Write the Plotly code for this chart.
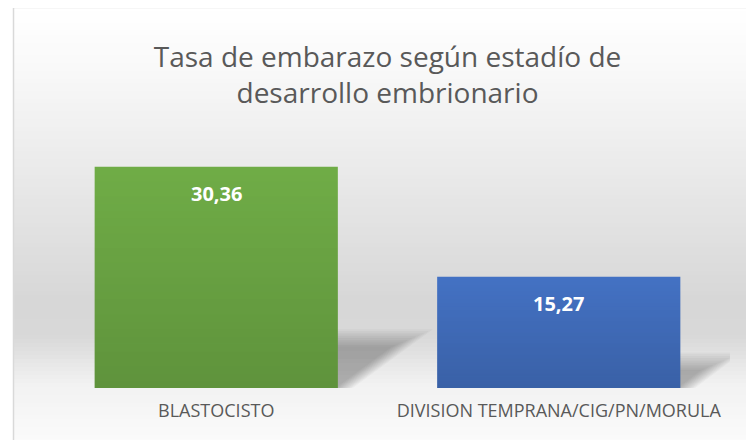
import plotly.graph_objects as go

categories = ["BLASTOCISTO", "DIVISION TEMPRANA/CIG/PN/MORULA"]
values = [30.36, 15.27]
value_labels = ["30,36", "15,27"]
bar_colors = ["#70AD47", "#4472C4"]
title_text = "Tasa de embarazo según estadío de<br>desarrollo embrionario"

W, H = 754, 440
OFF = 8  # page body margin offset
ML, MR, MT, MB = 45 - OFF, 24 + OFF, 133 - OFF, 52 + OFF
YMAX = 35
BAR_W = 0.71
plot_h = H - MT - MB
plot_w = W - ML - MR

shapes = []

# pixel helpers (reference page coordinates -> paper)
def px_to_paper_y(py):
    return (H - MB - (py - OFF)) / plot_h

def px_to_paper_x(px):
    return ((px - OFF) - ML) / plot_w

# background vertical gradient
stops = [(7, 255), (60, 250), (300, 215), (335, 216), (385, 242), (450, 252)]
def bg_at(py):
    for (y0, c0), (y1, c1) in zip(stops[:-1], stops[1:]):
        if y0 <= py <= y1:
            t = (py - y0) / (y1 - y0)
            return c0 + (c1 - c0) * t
    return stops[-1][1]

step = 4
py = 7
while py < H + OFF:
    c = int(round(bg_at(py + step / 2)))
    shapes.append(dict(type="rect", xref="paper", yref="paper", layer="below",
                       x0=px_to_paper_x(13), x1=px_to_paper_x(W + 20),
                       y0=px_to_paper_y(py + step), y1=px_to_paper_y(py),
                       fillcolor=f"rgb({c},{c},{c})", line=dict(width=0)))
    py += step

# perspective shadows (soft, layered)
px_per_unit = plot_h / YMAX
cat_px = plot_w / len(categories)
layers = [(-0.06 + 0.02 * k, 0.026) for k in range(11)]
for i, v in enumerate(values):
    hpx = v * px_per_unit
    shift = 0.30 * hpx / cat_px
    ytop = 0.21 * v
    x0, x1 = i - BAR_W / 2, i + BAR_W / 2
    for g, op in layers:
        path = (f"M {x0} 0 L {x1 + g * 0.25} {-0.3} "
                f"L {x1 + shift + g * 0.6} {ytop + g * 12} "
                f"L {x0 + shift} {ytop + g * 12} Z")
        shapes.append(dict(type="path", xref="x", yref="y", layer="below", path=path,
                           fillcolor=f"rgba(0,0,0,{op})", line=dict(width=0)))

# bar gradient overlay
N = 30
for i, v in enumerate(values):
    for k in range(N):
        y0 = v * k / N
        y1 = v * (k + 1) / N
        op = 0.15 * (1 - (k + 0.5) / N)
        shapes.append(dict(type="rect", xref="x", yref="y", layer="above",
                           x0=i - BAR_W / 2, x1=i + BAR_W / 2, y0=y0, y1=y1,
                           fillcolor=f"rgba(0,0,0,{op:.4f})", line=dict(width=0)))

# chart border
shapes.append(dict(type="rect", xref="paper", yref="paper", layer="above",
                   x0=px_to_paper_x(13.5), x1=px_to_paper_x(W + 20),
                   y0=px_to_paper_y(H + 20), y1=px_to_paper_y(7.5),
                   fillcolor="rgba(0,0,0,0)", line=dict(color="#d9d9d9", width=1.5)))

annotations = []
for i, (v, lab) in enumerate(zip(values, value_labels)):
    annotations.append(dict(x=i, y=v, xref="x", yref="y", text=f"<b>{lab}</b>",
                            showarrow=False, yanchor="top", yshift=-11,
                            font=dict(family="Open Sans", size=20, color="white")))

fig = go.Figure(go.Bar(
    x=list(range(len(categories))), y=values, width=BAR_W,
    marker=dict(color=bar_colors, line=dict(width=0)),
    hoverinfo="skip",
))

fig.update_layout(
    width=W, height=H,
    margin=dict(l=ML, r=MR, t=MT, b=MB),
    paper_bgcolor="white", plot_bgcolor="rgba(0,0,0,0)",
    title=dict(text=title_text, x=0.5, xref="paper", xanchor="center",
               y=1 - (66.5 - OFF) / H, yanchor="middle",
               font=dict(family="Open Sans", size=28, color="#595959")),
    xaxis=dict(tickmode="array", tickvals=list(range(len(categories))), ticktext=categories,
               range=[-0.5, len(categories) - 0.5], showgrid=False, zeroline=False,
               showline=False, ticks="", ticklabelstandoff=10,
               tickfont=dict(family="Open Sans", size=18, color="#595959")),
    yaxis=dict(range=[0, YMAX], visible=False),
    shapes=shapes, annotations=annotations,
    showlegend=False,
)

fig.write_html("out.html")
